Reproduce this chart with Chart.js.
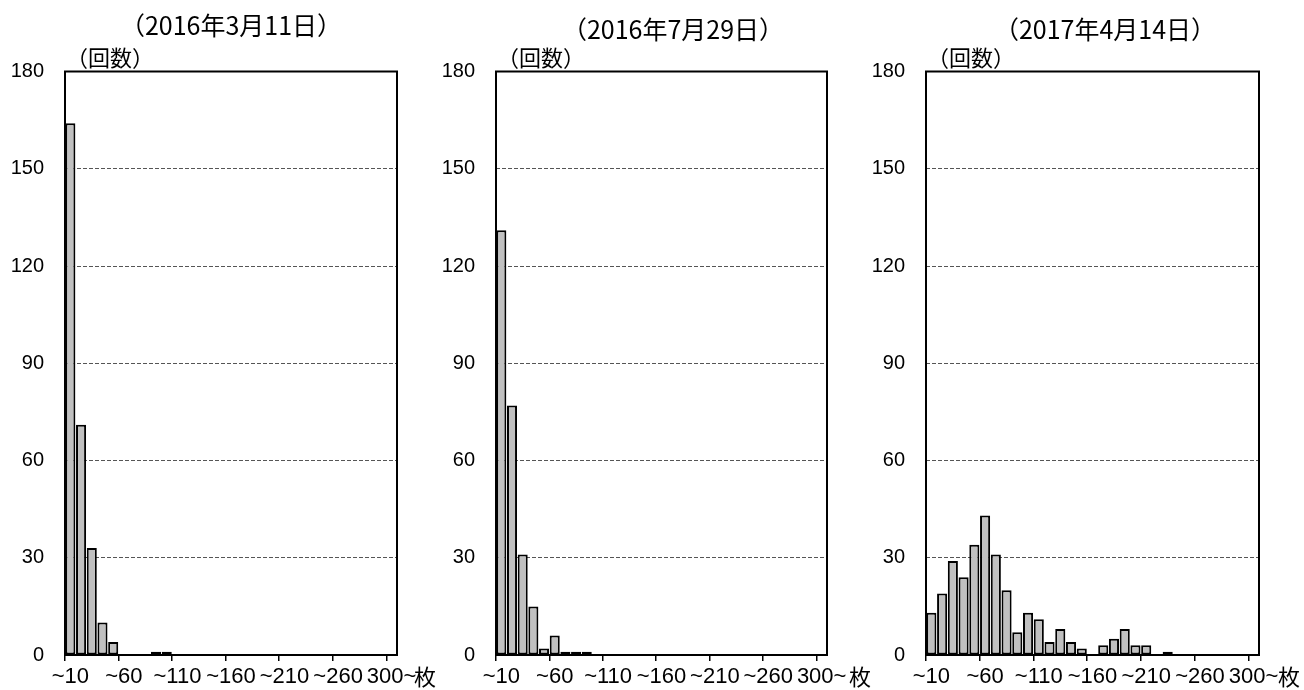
<!DOCTYPE html>
<html>
<head>
<meta charset="utf-8">
<script src="https://cdn.jsdelivr.net/npm/chart.js@4.4.1/dist/chart.umd.min.js"></script>
<style>
  html, body { margin: 0; padding: 0; background: #fff; overflow: hidden; width: 1304px; height: 690px; }
  canvas { position: absolute; top: 0; }
</style>
</head>
<body>
<canvas id="c1" width="440" height="690" style="left:0px"></canvas>
<canvas id="c2" width="440" height="690" style="left:431px"></canvas>
<canvas id="c3" width="443" height="690" style="left:861px"></canvas>
<script>
// Histogram bins (sheets per event), 10-sheet steps plus the open top bin
const binLabels = [
  '~10', '~20', '~30', '~40', '~50', '~60', '~70', '~80', '~90', '~100',
  '~110', '~120', '~130', '~140', '~150', '~160', '~170', '~180', '~190', '~200',
  '~210', '~220', '~230', '~240', '~250', '~260', '~270', '~280', '~290', '~300',
  '300~'
];

// Number of occurrences per bin
const counts20160311 = [164, 71, 33, 10, 4, 0, 0, 0, 1, 1, 0, 0, 0, 0, 0, 0, 0, 0, 0, 0, 0, 0, 0, 0, 0, 0, 0, 0, 0, 0, 0];
const counts20160729 = [131, 77, 31, 15, 2, 6, 1, 1, 1, 0, 0, 0, 0, 0, 0, 0, 0, 0, 0, 0, 0, 0, 0, 0, 0, 0, 0, 0, 0, 0, 0];
const counts20170414 = [13, 19, 29, 24, 34, 43, 31, 20, 7, 13, 11, 4, 8, 4, 2, 0, 3, 5, 8, 3, 3, 0, 1, 0, 0, 0, 0, 0, 0, 0, 0];

const panelTitles = ['（2016年3月11日）', '（2016年7月29日）', '（2017年4月14日）'];
const yUnitLabel = '（回数）';
const xUnitLabel = '枚';
const yMin = 0, yMax = 180, yStep = 30;
const labelEvery = 5;

// Placement of each panel on the page
const panelLayout = [
  { canvas: 'c1', padRight: 43, titleDx: 0,    titleY: 25, unitDx: 17 },
  { canvas: 'c2', padRight: 44, titleDx: 11.5, titleY: 29, unitDx: 22 },
  { canvas: 'c3', padRight: 45, titleDx: 12.5, titleY: 29, unitDx: 19 }
];
const seriesList = [counts20160311, counts20160729, counts20170414];

const CLEAR = 'rgba(0,0,0,0)';
const LATIN = '"Liberation Sans", "Noto Sans CJK JP", sans-serif';
const CJK = '"Noto Sans CJK JP", sans-serif';

// Frame around the plot plus title and unit captions
const decorations = {
  id: 'decorations',
  afterDatasetsDraw(chart, args, opts) {
    const { ctx, chartArea: a } = chart;
    ctx.save();
    ctx.lineWidth = 2;
    ctx.strokeStyle = '#000';
    ctx.strokeRect(a.left, a.top, a.right - a.left, a.bottom - a.top);

    ctx.fillStyle = '#000';
    ctx.textBaseline = 'middle';
    ctx.textAlign = 'center';
    ctx.font = '25px ' + CJK;
    ctx.fillText(opts.title, (a.left + a.right) / 2 + opts.titleDx, opts.titleY);

    ctx.textAlign = 'left';
    ctx.font = '22px ' + CJK;
    ctx.fillText(yUnitLabel, a.left + 1, 58);

    ctx.font = '22px ' + CJK;
    ctx.fillText(xUnitLabel, a.right + opts.unitDx, 677);
    ctx.restore();
  }
};

panelLayout.forEach((p, i) => {
  new Chart(document.getElementById(p.canvas), {
    type: 'bar',
    data: {
      labels: binLabels,
      datasets: [{
        data: seriesList[i],
        backgroundColor: '#c0c0c0',
        borderColor: '#000',
        borderWidth: 2,
        borderSkipped: false,
        barPercentage: 0.94,
        categoryPercentage: 1
      }]
    },
    options: {
      responsive: false,
      animation: false,
      events: [],
      layout: { padding: { top: 71.5, right: p.padRight, bottom: 0, left: 0 } },
      plugins: {
        legend: { display: false },
        tooltip: { enabled: false },
        decorations: { title: panelTitles[i], titleDx: p.titleDx, titleY: p.titleY, unitDx: p.unitDx }
      },
      scales: {
        x: {
          offset: true,
          afterFit(s) { s.height = 35; },
          grid: {
            offset: true,
            drawOnChartArea: false,
            drawTicks: true,
            tickLength: 6,
            lineWidth: 1.5,
            tickWidth: 1.5,
            color: c => (c.index % labelEvery === 0 ? '#000' : CLEAR),
            tickColor: c => (c.index % labelEvery === 0 ? '#000' : CLEAR)
          },
          border: { display: false },
          ticks: {
            autoSkip: false,
            maxRotation: 0,
            minRotation: 0,
            padding: 3,
            color: '#000',
            font: { family: LATIN, size: 22 },
            callback(value, index) {
              return index % labelEvery === 0 ? this.getLabelForValue(value) : '';
            }
          }
        },
        y: {
          min: yMin,
          max: yMax,
          afterFit(s) { s.width = 65; },
          grid: {
            drawTicks: false,
            lineWidth: 1,
            color: c => (c.tick && (c.tick.value === yMin || c.tick.value === yMax) ? CLEAR : '#555')
          },
          border: { display: false, dash: [4, 2] },
          ticks: {
            stepSize: yStep,
            padding: 21,
            color: '#000',
            font: { family: LATIN, size: 20 }
          }
        }
      }
    },
    plugins: [decorations]
  });
});
</script>
</body>
</html>
